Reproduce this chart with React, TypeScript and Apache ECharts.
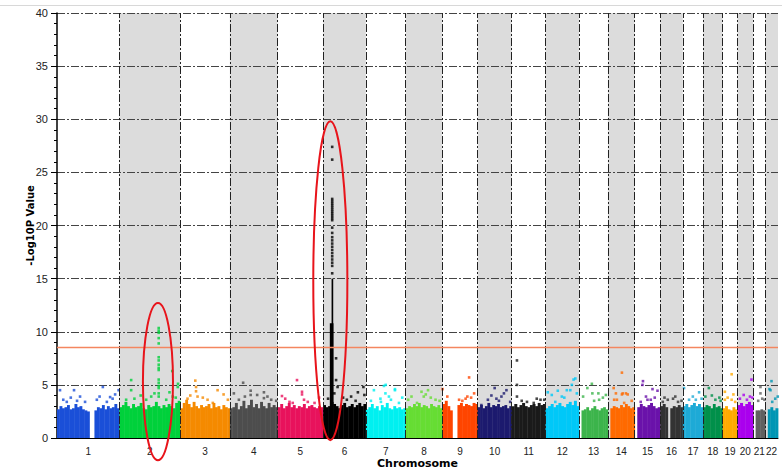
import React, { useEffect, useRef } from "react";
import * as echarts from "echarts";

// ---------- data ----------
const chromosomes = ["1","2","3","4","5","6","7","8","9","10","11","12","13","14","15","16","17","18","19","20","21","22"];
const chromLengths = [249,243,198,191,181,171,159,146,141,136,135,134,115,107,102,90,81,78,59,63,48,51];
const chromColors = [
  "#1a4fd8","#00d13b","#f58a00","#4d4d4d","#e8125c","#000000","#00f0f0","#66dd33","#ff4500","#1c1a6e","#1a1a1a",
  "#00c8f8","#3cb44b","#ff6a00","#6a12aa","#333333","#1eaad6","#00904a","#ffaa00","#aa00ee","#606060","#0096b4"
];

// top of the dense block of points, sampled evenly along each chromosome (0 = no markers)
const bandProfiles: number[][] = [
  [2.7,3.0,2.8,2.9,3.1,2.7,2.8,3.2,2.9,3.0,2.7,2.6,2.5,0,0,2.6,2.9,2.8,3.1,2.7,3.0,2.8,2.9,3.2,2.8],
  [2.9,3.1,3.4,3.0,2.8,3.2,2.9,3.0,3.3,2.8,2.7,3.1,2.9,3.0,3.4,3.0,2.8,3.1,2.9,3.2,3.0,2.8,3.3,3.5],
  [2.8,3.3,3.6,3.2,2.9,3.4,3.0,2.8,3.1,2.9,3.0,3.2,2.8,3.3,2.9,3.0,2.7,3.1,2.9,2.8],
  [2.8,2.9,3.3,2.7,3.0,3.5,2.8,3.1,3.6,2.9,3.2,2.8,3.4,3.0,2.8,3.3,2.9,3.1,2.9],
  [2.9,3.2,2.8,3.0,3.3,2.9,3.1,2.8,3.0,2.9,3.2,2.8,3.0,3.1,2.9,2.8,3.0,2.9],
  [3.1,2.9,3.0,3.4,3.2,3.0,2.8,3.1,3.3,2.9,3.0,3.2,2.9,3.1,3.3,3.0,3.2],
  [2.7,2.9,3.2,2.8,3.0,2.6,3.1,2.9,3.3,2.8,2.7,3.0,2.8,2.9,2.7,2.8],
  [2.8,3.0,2.9,3.2,3.0,3.3,2.9,3.1,3.0,2.8,3.2,3.0,2.9,3.1,2.8],
  [3.2,3.5,3.0,2.6,0,0,3.1,3.3,3.0,3.2,3.1,3.0,3.3,3.2],
  [2.9,3.1,2.8,3.0,3.3,2.9,3.1,3.0,3.2,2.9,3.0,3.1,2.8,3.0],
  [3.0,3.2,2.9,3.1,3.3,3.0,2.9,3.1,3.2,3.0,3.3,3.1,3.2],
  [2.8,3.0,3.2,2.9,3.1,3.3,3.0,2.9,3.2,3.4,3.1,3.5,3.0],
  [0,2.6,2.7,2.9,2.6,2.8,3.0,2.7,2.6,2.8,2.9,2.7],
  [0,2.8,3.0,2.9,2.8,3.1,2.9,3.2,3.0,2.8,2.9],
  [0,2.9,3.2,3.0,2.9,3.1,3.3,3.0,2.8,2.9],
  [3.0,3.2,2.9,0,2.8,3.0,2.9,3.1,2.9],
  [3.0,3.2,2.9,3.1,3.3,3.0,3.2,2.9],
  [2.9,3.1,3.0,2.8,3.2,2.9,3.0,2.8],
  [2.8,3.0,2.7,2.6,2.9,2.7],
  [3.1,3.3,3.0,3.2,3.4,3.1],
  [0,2.6,2.6,2.7,2.6],
  [0,2.7,2.9,2.6,2.8]
];

// very dense stacks of points drawn as solid columns: [chromosome, startMb, endMb, height]
const peakColumns: [number, number, number, number][] = [
  [6, 27, 40, 10.8],
  [6, 34, 39, 15.0]
];

// individual SNPs above the dense block: [chromosome, Mb, -log10 P]
const hits: [number, number, number][] = [
  [1,12,4.5],[1,68,4.5],[1,92,3.9],[1,183,4.8],[1,212,3.85],[1,232,4.1],[1,246,4.5],[1,25,3.6],[1,39,3.4],[1,112,3.4],[1,159,3.6],[1,199,3.4],[1,55,3.8],[1,80,3.5],[1,170,3.9],[1,222,3.7],
  [2,47,5.45],[2,47,4.5],[2,27,3.6],[2,107,3.6],[2,127,3.9],[2,211,6.3],[2,213,3.9],[2,233,4.8],[2,234,5.1],[2,187,3.6],[2,60,3.7],[2,85,4.0],[2,140,4.2],[2,200,4.3],[2,225,3.8],
  [3,60,5.4],[3,63,4.8],[3,63,4.4],[3,69,3.9],[3,149,4.5],[3,173,4.1],[3,109,3.6],[3,29,3.7],[3,130,3.3],[3,90,3.8],[3,190,3.6],[3,40,4.0],
  [4,53,5.2],[4,83,4.45],[4,83,4.05],[4,109,4.05],[4,136,4.3],[4,136,3.75],[4,165,3.6],[4,16,4.2],[4,36,3.6],[4,60,3.9],[4,185,3.5],[4,150,3.9],
  [5,77,5.45],[5,97,4.35],[5,97,4.1],[5,17,3.95],[5,47,3.4],[5,60,3.3],[5,120,3.4],[5,147,3.3],[5,30,3.7],[5,105,3.6],[5,165,3.8],
  [6,52,7.5],[6,52,5.45],[6,58,4.8],[6,112,3.9],[6,139,4.3],[6,161,4.8],[6,165,4.05],[6,20,3.7],[6,80,3.8],[6,95,3.6],[6,45,4.2],[6,130,3.5],
  [7,32,4.5],[7,79,5.0],[7,92,3.9],[7,116,4.5],[7,60,3.4],[7,132,3.3],[7,72,4.9],[7,78,4.2],[7,116,4.6],[7,58,3.7],[7,20,3.5],[7,100,3.6],[7,145,3.8],
  [8,89,4.5],[8,63,4.35],[8,23,3.9],[8,72,3.9],[8,119,3.6],[8,45,3.3],[8,100,3.8],[8,80,4.1],[8,135,3.5],[8,10,3.6],
  [9,107,5.7],[9,67,3.6],[9,93,3.7],[9,100,3.9],[9,127,4.2],[9,20,3.9],[9,1,4.6],[9,80,3.5],[9,115,3.8],
  [10,68,4.7],[10,115,4.5],[10,75,3.7],[10,15,3.1],[10,41,3.6],[10,95,3.9],[10,130,3.4],[10,55,4.0],[10,105,4.2],[10,85,3.5],
  [11,21,7.3],[11,21,5.0],[11,21,3.9],[11,61,3.4],[11,115,3.6],[11,88,3.3],[11,40,3.5],[11,100,3.7],[11,130,3.6],
  [12,112,5.5],[12,119,5.6],[12,99,4.5],[12,85,4.5],[12,49,4.45],[12,9,4.3],[12,25,4.05],[12,65,3.9],[12,105,5.0],[12,39,3.4],[12,75,3.8],[12,125,4.2],
  [13,51,5.1],[13,33,4.7],[13,53,4.2],[13,77,4.2],[13,107,4.05],[13,16,3.9],[13,80,3.6],[13,95,3.8],[13,60,3.5],
  [14,56,6.15],[14,23,4.7],[14,56,4.1],[14,25,3.6],[14,36,3.6],[14,79,4.1],[14,65,3.3],[14,32,4.2],[14,59,4.2],[14,72,4.2],[14,95,3.5],
  [15,33,5.35],[15,31,5.0],[15,71,4.6],[15,91,4.45],[15,24,3.4],[15,64,3.6],[15,51,3.6],[15,80,3.8],[15,45,3.9],
  [16,17,3.8],[16,51,3.7],[16,10,3.4],[16,71,3.4],[16,30,3.6],[16,60,3.9],[16,85,3.5],
  [17,5,4.7],[17,25,3.6],[17,65,4.3],[17,52,3.6],[17,40,3.9],[17,75,3.7],
  [18,23,4.7],[18,9,3.9],[18,49,3.6],[18,35,4.0],[18,65,3.8],[18,70,3.5],
  [19,36,6.0],[19,9,4.35],[19,43,4.1],[19,9,3.6],[19,36,3.6],[19,20,3.8],[19,50,3.4],
  [20,56,5.5],[20,25,4.05],[20,38,3.6],[20,10,3.7],[20,50,3.9],[20,60,3.8],
  [21,29,4.8],[21,29,4.2],[21,36,3.7],[21,45,3.6],[21,20,3.5],
  [22,25,5.35],[22,17,4.6],[22,50,3.9],[22,28,3.4],[22,21,4.5],[22,40,3.7]
];

const chr2PeakMb = 157;
const chr2PeakValues = [10.35,10.1,9.9,9.4,8.9,7.6,7.3,6.9,6.6,6.4,5.5,5.2,4.9,4.7,4.2,3.9];
const chr6PeakMb = 36.5;
const chr6PeakValues = [27.4,26.2,22.5,22.3,22.1,21.9,21.7,21.5,21.3,21.1,20.9,20.7,20.5,19.8,19.3,18.9,18.6,18.3,18.0,17.7,17.4,17.1,16.8,16.5,16.2,15.5];

const genomeWideThreshold = 8.5;
const yMax = 40;
const yInterval = 5;

// highlighted regions: [chromosome, centerMb, centerValue, halfWidthMb, halfHeightValue]
const highlightRegions: [number, number, number, number, number][] = [
  [2, 154, 5.3, 60, 7.4],
  [6, 29, 14.8, 68, 15.0]
];

// ---------- derived ----------
const chromStarts: number[] = [];
{
  let acc = 0;
  for (const len of chromLengths) { chromStarts.push(acc); acc += len; }
}
const totalLength = chromLengths.reduce((a, b) => a + b, 0);
const chromMids = chromStarts.map((s, i) => s + chromLengths[i] / 2);

const DASH_DOT = [8, 2, 2, 2];
const LABEL_FONT = "Liberation Sans, Arial, sans-serif";

export default function App() {
  const ref = useRef<HTMLDivElement>(null);

  useEffect(() => {
    if (!ref.current) return;
    const chart = echarts.init(ref.current, null, { renderer: "svg" });

    const bandData: number[][] = [];
    bandProfiles.forEach((prof, i) => {
      const w = chromLengths[i] / prof.length;
      prof.forEach((h, j) => {
        if (h > 0) bandData.push([chromStarts[i] + j * w, chromStarts[i] + (j + 1) * w, h, i]);
      });
    });
    peakColumns.forEach(([c, s, e, h]) => {
      bandData.push([chromStarts[c - 1] + s, chromStarts[c - 1] + e, h, c - 1]);
    });

    const pointData: number[][] = hits.map(([c, mb, v]) => [chromStarts[c - 1] + mb, v, c - 1]);
    chr2PeakValues.forEach((v) => pointData.push([chromStarts[1] + chr2PeakMb, v, 1]));
    chr6PeakValues.forEach((v) => pointData.push([chromStarts[5] + chr6PeakMb, v, 5]));

    const grayBands = chromStarts
      .map((s, i) => (i % 2 === 1 ? [{ xAxis: s }, { xAxis: s + chromLengths[i] }] : null))
      .filter(Boolean);

    const option: any = {
      animation: false,
      textStyle: { fontFamily: "DejaVu Sans, Verdana, sans-serif" },
      grid: { left: 57, right: 4, top: 13, bottom: 37 },
      xAxis: {
        type: "value",
        min: 0,
        max: totalLength,
        z: 5,
        axisLine: { show: true, onZero: false, lineStyle: { color: "#000", width: 1 } },
        axisTick: { show: false },
        splitLine: { show: false },
        axisLabel: {
          customValues: chromMids,
          fontSize: 10,
          fontFamily: LABEL_FONT,
          color: "#222",
          margin: 8,
          showMinLabel: true,
          showMaxLabel: true,
          hideOverlap: false,
          formatter: (v: number) => {
            let best = 0;
            chromMids.forEach((m, i) => { if (Math.abs(m - v) < Math.abs(chromMids[best] - v)) best = i; });
            return chromosomes[best];
          }
        },
        name: "Chromosome",
        nameLocation: "middle",
        nameGap: 20,
        nameMoveOverlap: false,
        nameTextStyle: { fontWeight: "bold", fontSize: 11, color: "#000" }
      },
      yAxis: {
        type: "value",
        min: 0,
        max: yMax,
        interval: yInterval,
        z: 2,
        axisLine: { show: true, lineStyle: { color: "#000", width: 1.5 } },
        axisTick: { show: true, length: 6, lineStyle: { color: "#000" } },
        minorTick: { show: true, splitNumber: 5, length: 3, lineStyle: { color: "#000" } },
        splitLine: { show: true, lineStyle: { color: "#444", width: 1, type: DASH_DOT } },
        axisLabel: { fontSize: 11, fontFamily: LABEL_FONT, color: "#222", margin: 9 },
        name: "-Log10P Value",
        nameLocation: "middle",
        nameGap: 22,
        nameMoveOverlap: false,
        nameTextStyle: { fontWeight: "bold", fontSize: 10, color: "#000" }
      },
      series: [
        {
          name: "bands",
          type: "scatter",
          z: 1,
          silent: true,
          symbolSize: 0,
          data: [[-100, -100]],
          markArea: {
            silent: true,
            itemStyle: { color: "#dcdcdc" },
            data: grayBands
          }
        },
        {
          name: "boundaries",
          type: "scatter",
          z: 2,
          silent: true,
          symbolSize: 0,
          data: [[-100, -100]],
          markLine: {
            silent: true,
            symbol: ["none", "none"],
            label: { show: false },
            lineStyle: { color: "#222", width: 1, type: DASH_DOT },
            data: chromStarts.slice(1).map((s) => ({ xAxis: s }))
          }
        },
        {
          name: "dense",
          type: "custom",
          z: 3,
          encode: { x: [0, 1], y: 2 },
          data: bandData,
          renderItem: (params: any, api: any) => {
            const p0 = api.coord([api.value(0), 0]);
            const p1 = api.coord([api.value(1), api.value(2)]);
            return {
              type: "rect",
              shape: { x: p0[0], y: p1[1], width: p1[0] - p0[0] + 0.4, height: p0[1] - p1[1] },
              style: { fill: chromColors[api.value(3)] }
            };
          }
        },
        {
          name: "snps",
          type: "scatter",
          z: 4,
          symbol: "rect",
          symbolSize: 2.6,
          data: pointData,
          itemStyle: { color: (p: any) => chromColors[p.value[2]] }
        },
        {
          name: "threshold",
          type: "scatter",
          z: 6,
          silent: true,
          symbolSize: 0,
          data: [[-100, -100]],
          markLine: {
            silent: true,
            symbol: ["none", "none"],
            label: { show: false },
            lineStyle: { color: "#f4865f", width: 1.3, type: "solid" },
            data: [{ yAxis: genomeWideThreshold }]
          }
        }
      ]
    };
    chart.setOption(option);

    const ellipses = highlightRegions.map(([c, mb, v, hw, hh]) => {
      const cx = chromStarts[c - 1] + mb;
      const center = chart.convertToPixel({ gridIndex: 0 }, [cx, v]) as number[];
      const corner = chart.convertToPixel({ gridIndex: 0 }, [cx + hw, v + hh]) as number[];
      return {
        type: "ellipse",
        z: 100,
        silent: true,
        shape: { cx: center[0], cy: center[1], rx: Math.abs(corner[0] - center[0]), ry: Math.abs(center[1] - corner[1]) },
        style: { fill: "none", stroke: "#e8141b", lineWidth: 2 }
      };
    });
    chart.setOption({
      graphic: [
        { type: "rect", z: 100, silent: true, shape: { x: 0, y: 5, width: 782, height: 1 }, style: { fill: "#d8d8d8" } },
        ...ellipses
      ]
    });

    return () => chart.dispose();
  }, []);

  return <div ref={ref} style={{ position: "absolute", left: 0, top: 0, width: 782, height: 475 }} />;
}
